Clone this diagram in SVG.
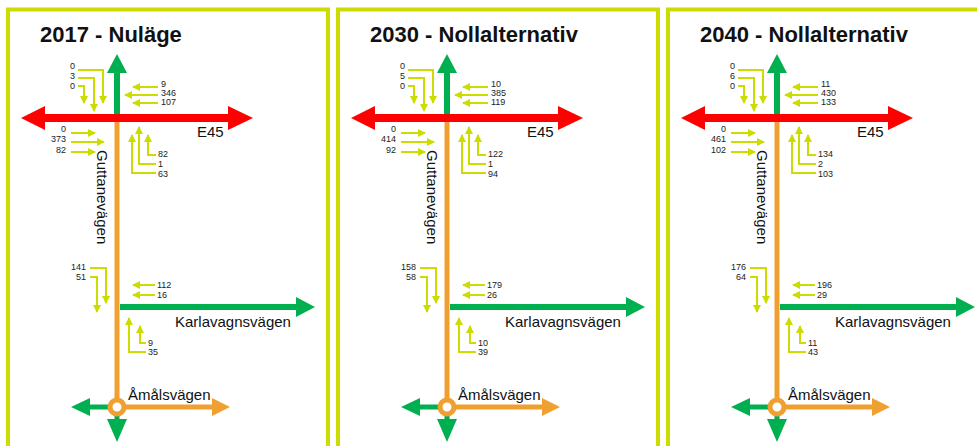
<svg xmlns="http://www.w3.org/2000/svg" width="977" height="446" viewBox="0 0 977 446">
<style>
.frame{fill:none;stroke:#cddc00;stroke-width:4}
.title{font-family:"Liberation Sans",Arial,sans-serif;font-weight:bold;font-size:22px;fill:#111}
.road{font-family:"Liberation Sans",Arial,sans-serif;font-size:15px;fill:#111}
.num{font-family:"Liberation Sans",Arial,sans-serif;font-size:9px;fill:#222}
.e{text-anchor:end}
.red{stroke:#ff0000;stroke-width:8}
.grn{stroke:#00b050;stroke-width:6}
.grn5{stroke:#00b050;stroke-width:5}
.org{stroke:#f0a030;stroke-width:5}
.fg{fill:#00b050}
.fr{fill:#ff0000}
.fo{fill:#f0a030}
.turn{fill:none;stroke:#cddc00;stroke-width:2;marker-end:url(#ya)}
</style>
<defs>
<marker id="ya" markerWidth="8" markerHeight="8" refX="7" refY="4" orient="auto" markerUnits="userSpaceOnUse">
<path d="M0,0 L8,4 L0,8 z" fill="#cddc00"/>
</marker>
<g id="roads">
<line class="grn" x1="117" y1="114" x2="117" y2="72"/>
<polygon class="fg" points="117,54 107,73 127,73"/>
<line class="org" x1="117" y1="122" x2="117" y2="400"/>
<line class="red" x1="44" y1="118" x2="229" y2="118"/>
<polygon class="fr" points="21,118 45,106 45,130"/>
<polygon class="fr" points="253,118 228,106 228,130"/>
<line class="grn" x1="120" y1="307" x2="297" y2="307"/>
<polygon class="fg" points="315,307 296,297 296,317"/>
<line class="org" x1="124" y1="407" x2="213" y2="407"/>
<polygon class="fo" points="230,407 212,398 212,416"/>
<line class="grn5" x1="110" y1="407" x2="89" y2="407"/>
<polygon class="fg" points="71,407 90,398 90,416"/>
<line class="grn5" x1="117" y1="414" x2="117" y2="421"/>
<polygon class="fg" points="117,442 107,419 127,419"/>
<circle cx="117" cy="407" r="7" fill="#fff" stroke="#f0a030" stroke-width="5"/>
<text class="road" x="197" y="137">E45</text>
<text class="road" transform="translate(97,150) rotate(90)">Guttanevägen</text>
<text class="road" x="175" y="327">Karlavagnsvägen</text>
<text class="road" x="128" y="400">Åmålsvägen</text>
</g>
<g id="turns">
<path class="turn" d="M78,70 H103 V103"/>
<path class="turn" d="M78,78 H94 V111"/>
<path class="turn" d="M78,86 H84 V103"/>
<path class="turn" d="M158,87 H133"/>
<path class="turn" d="M158,95 H125"/>
<path class="turn" d="M158,103 H133"/>
<path class="turn" d="M71,133 H95"/>
<path class="turn" d="M71,142 H104"/>
<path class="turn" d="M71,152 H95"/>
<path class="turn" d="M156,155 H148 V135"/>
<path class="turn" d="M156,164 H139 V127"/>
<path class="turn" d="M156,173 H132 V135"/>
<path class="turn" d="M90,268 H106 V303"/>
<path class="turn" d="M90,277 H97 V312"/>
<path class="turn" d="M155,285 H133"/>
<path class="turn" d="M155,295 H133"/>
<path class="turn" d="M146,343 H140 V326"/>
<path class="turn" d="M146,352 H129 V318"/>
</g>
</defs>

<g id="panel-2017">
<rect class="frame" x="8" y="9.5" width="320" height="460"/>
<text class="title" x="40" y="42">2017 - Nuläge</text>
<use href="#roads"/>
<g id="connectors-2017"><use href="#turns"/></g>
<g id="labels-2017">
<text class="num e" x="75" y="69">0</text><text class="num e" x="75" y="79">3</text><text class="num e" x="75" y="89">0</text>
<text class="num" x="161" y="86.5">9</text><text class="num" x="161" y="95.5">346</text><text class="num" x="161" y="105">107</text>
<text class="num e" x="66" y="131.5">0</text><text class="num e" x="66" y="142">373</text><text class="num e" x="66" y="153">82</text>
<text class="num" x="158" y="157">82</text><text class="num" x="158" y="167">1</text><text class="num" x="158" y="177">63</text>
<text class="num e" x="86" y="270">141</text><text class="num e" x="86" y="280">51</text>
<text class="num" x="157" y="288">112</text><text class="num" x="157" y="298">16</text>
<text class="num" x="148" y="345.5">9</text><text class="num" x="148" y="355">35</text>
</g>
</g>

<g id="panel-2030" transform="translate(330,0)">
<rect class="frame" x="8" y="9.5" width="320" height="460"/>
<text class="title" x="40" y="42">2030 - Nollalternativ</text>
<use href="#roads"/>
<g id="connectors-2030"><use href="#turns"/></g>
<g id="labels-2030">
<text class="num e" x="75" y="69">0</text><text class="num e" x="75" y="79">5</text><text class="num e" x="75" y="89">0</text>
<text class="num" x="161" y="86.5">10</text><text class="num" x="161" y="95.5">385</text><text class="num" x="161" y="105">119</text>
<text class="num e" x="66" y="131.5">0</text><text class="num e" x="66" y="142">414</text><text class="num e" x="66" y="153">92</text>
<text class="num" x="158" y="157">122</text><text class="num" x="158" y="167">1</text><text class="num" x="158" y="177">94</text>
<text class="num e" x="86" y="270">158</text><text class="num e" x="86" y="280">58</text>
<text class="num" x="157" y="288">179</text><text class="num" x="157" y="298">26</text>
<text class="num" x="148" y="345.5">10</text><text class="num" x="148" y="355">39</text>
</g>
</g>

<g id="panel-2040" transform="translate(660,0)">
<rect class="frame" x="8" y="9.5" width="320" height="460"/>
<text class="title" x="40" y="42">2040 - Nollalternativ</text>
<use href="#roads"/>
<g id="connectors-2040"><use href="#turns"/></g>
<g id="labels-2040">
<text class="num e" x="75" y="69">0</text><text class="num e" x="75" y="79">6</text><text class="num e" x="75" y="89">0</text>
<text class="num" x="161" y="86.5">11</text><text class="num" x="161" y="95.5">430</text><text class="num" x="161" y="105">133</text>
<text class="num e" x="66" y="131.5">0</text><text class="num e" x="66" y="142">461</text><text class="num e" x="66" y="153">102</text>
<text class="num" x="158" y="157">134</text><text class="num" x="158" y="167">2</text><text class="num" x="158" y="177">103</text>
<text class="num e" x="86" y="270">176</text><text class="num e" x="86" y="280">64</text>
<text class="num" x="157" y="288">196</text><text class="num" x="157" y="298">29</text>
<text class="num" x="148" y="345.5">11</text><text class="num" x="148" y="355">43</text>
</g>
</g>
</svg>
